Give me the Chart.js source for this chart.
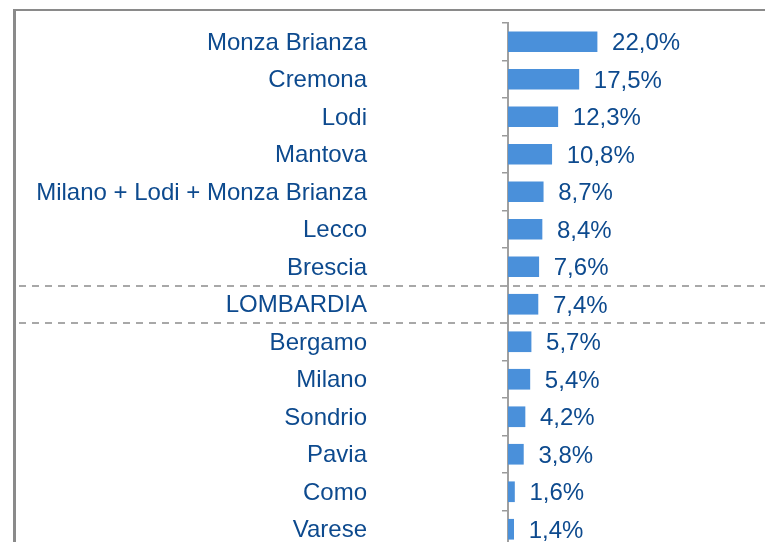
<!DOCTYPE html>
<html>
<head>
<meta charset="utf-8">
<script src="https://cdn.jsdelivr.net/npm/chart.js@4.4.1/dist/chart.umd.min.js"></script>
<style>
  html, body { margin: 0; padding: 0; background: #fff; overflow: hidden; }
  canvas { display: block; }
</style>
</head>
<body>
<canvas id="chart" width="765" height="560"></canvas>
<script>
// provinces, sorted as in the source table
const provinces = [
    "Monza Brianza", "Cremona", "Lodi", "Mantova", "Milano + Lodi + Monza Brianza",
    "Lecco", "Brescia", "LOMBARDIA", "Bergamo", "Milano", "Sondrio", "Pavia", "Como", "Varese"
];
const shares = [22.0, 17.5, 12.3, 10.8, 8.7, 8.4, 7.6, 7.4, 5.7, 5.4, 4.2, 3.8, 1.6, 1.4];
// the regional total is boxed by dashed lines
const highlightLabel = "LOMBARDIA";

const textColor = "#0d4a8e";
const barColor = "#4a90da";
const lineGrey = "#9a9a9a";
const fontFamily = "'Liberation Sans', Arial, sans-serif";

function fmt(v){
    return v.toFixed(1).replace(".", ",") + "%";
}

// frame, dashed separators and value labels
const decorations = {
    id: "decorations",
    beforeDraw(chart){
        const ctx = chart.ctx;
        ctx.save();
        ctx.fillStyle = "#8a8a8a";
        ctx.fillRect(13, 9, chart.width, 2);
        ctx.fillRect(13, 9, 3, chart.height);
        ctx.restore();
    },
    afterDatasetsDraw(chart){
        const ctx = chart.ctx;
        const y = chart.scales.y;
        const idx = provinces.indexOf(highlightLabel);

        ctx.save();
        ctx.strokeStyle = "#a8a8a8";
        ctx.lineWidth = 2;
        ctx.setLineDash([7, 6]);
        [idx - 0.5, idx + 0.5].forEach(v => {
            const py = Math.round(y.getPixelForValue(v));
            ctx.beginPath();
            ctx.moveTo(19, py);
            ctx.lineTo(chart.width, py);
            ctx.stroke();
        });
        ctx.restore();

        ctx.save();
        ctx.fillStyle = textColor;
        ctx.font = "24px " + fontFamily;
        ctx.textAlign = "left";
        ctx.textBaseline = "middle";
        chart.getDatasetMeta(0).data.forEach((bar, i) => {
            ctx.fillText(fmt(shares[i]), bar.x + 15, bar.y + 2);
        });
        ctx.restore();
    }
};

new Chart(document.getElementById("chart"), {
    type: "bar",
    data: {
        labels: provinces,
        datasets: [{
            data: shares,
            backgroundColor: barColor,
            borderWidth: 0,
            barThickness: 20
        }]
    },
    options: {
        indexAxis: "y",
        responsive: false,
        animation: false,
        layout: {
            padding: { top: 23, bottom: 12, right: 6, left: 0 }
        },
        plugins: {
            legend: { display: false },
            tooltip: { enabled: false }
        },
        scales: {
            x: {
                display: false,
                min: 0,
                max: 62
            },
            y: {
                afterFit(scale){
                    //big tick padding also pads top/bottom, undo that
                    scale.width = 508;
                    scale.paddingTop = 0;
                    scale.paddingBottom = 0;
                },
                grid: {
                    display: true,
                    offset: true,
                    drawOnChartArea: false,
                    drawTicks: true,
                    tickLength: 6,
                    color: lineGrey,
                    lineWidth: 1.5
                },
                border: {
                    display: true,
                    color: "#a0a0a0",
                    width: 2
                },
                ticks: {
                    color: textColor,
                    padding: 135,
                    labelOffset: 1.5,
                    font: {
                        family: fontFamily,
                        size: 24
                    }
                }
            }
        }
    },
    plugins: [decorations]
});
</script>
</body>
</html>
